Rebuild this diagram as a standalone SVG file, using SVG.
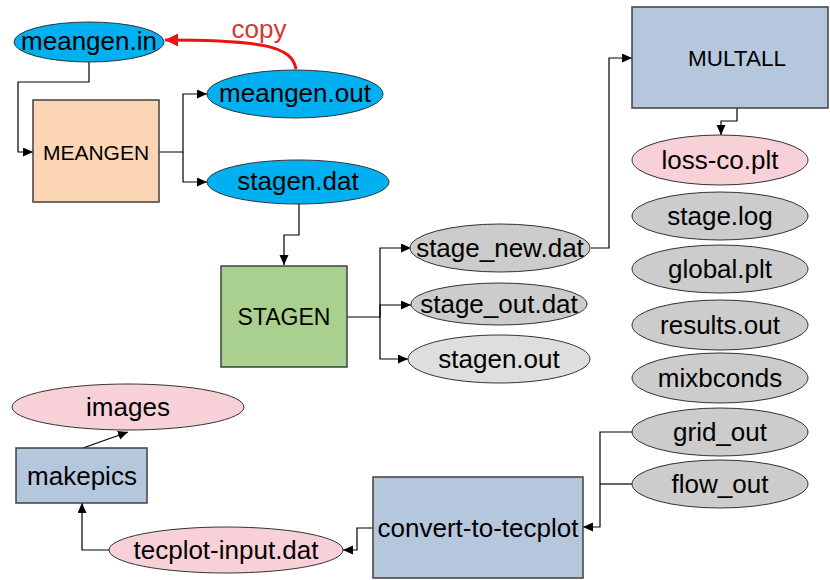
<svg xmlns="http://www.w3.org/2000/svg" width="830" height="580" viewBox="0 0 830 580">
<defs>
<style>
text{font-family:"Liberation Sans",Arial,sans-serif;font-size:26px;fill:#000;text-anchor:middle}
.ell{stroke:#333;stroke-width:1}
.box{stroke:#404040;stroke-width:1.5}
.cyan{fill:#00b0f0}
.grey{fill:#cccccc}
.lgrey{fill:#dedede}
.pink{fill:#f8d1d8}
.blue{fill:#b4c7dd}
.conn path{fill:none;stroke:#000;stroke-width:1.2}
</style>
<marker id="ah" markerUnits="userSpaceOnUse" markerWidth="11" markerHeight="10" refX="10" refY="4.5" orient="auto">
<path d="M0,0 L10,4.5 L0,9 z" fill="#000"/>
</marker>
<marker id="ahr" markerUnits="userSpaceOnUse" markerWidth="14" markerHeight="14" refX="13" refY="6.5" orient="auto">
<path d="M0,0 L13,6.5 L0,13 z" fill="#ee1111"/>
</marker>
</defs>
<rect width="830" height="580" fill="#fff"/>

<g id="connectors" class="conn">
<path d="M89,62 V82 H18 V152 H33" marker-end="url(#ah)"/>
<path d="M159,152 H183 V94 H207" marker-end="url(#ah)"/>
<path d="M183,152 V182 H207" marker-end="url(#ah)"/>
<path d="M299,204 V235 H284 V265" marker-end="url(#ah)"/>
<path d="M347,317 H380 V248 H411" marker-end="url(#ah)"/>
<path d="M380,317 V305 H411" marker-end="url(#ah)"/>
<path d="M380,317 V359 H408" marker-end="url(#ah)"/>
<path d="M591,248 H609 V58 H632" marker-end="url(#ah)"/>
<path d="M737,108 V121 H721 V135" marker-end="url(#ah)"/>
<path d="M632,432 H600 V527 H583" marker-end="url(#ah)"/>
<path d="M632,484 H600"/>
<path d="M373,528 H357 V550 H343" marker-end="url(#ah)"/>
<path d="M110,550 H82 V503" marker-end="url(#ah)"/>
<path d="M83,448 L128,432" marker-end="url(#ah)"/>
<path d="M296,69 C292,46 262,40 165,40" style="stroke:#ee1111;stroke-width:3" marker-end="url(#ahr)"/>
<text x="259" y="38" style="fill:#d93333">copy</text>
</g>

<g id="meangen-in"><ellipse class="ell cyan" cx="89" cy="42" rx="75" ry="20"/><text x="89" y="50">meangen.in</text></g>
<g id="meangen"><rect class="box" x="33" y="100" width="126" height="102" fill="#fcd5b4"/><text x="96" y="160" style="font-size:21px">MEANGEN</text></g>
<g id="meangen-out"><ellipse class="ell cyan" cx="295" cy="94" rx="88" ry="24"/><text x="295" y="102">meangen.out</text></g>
<g id="stagen-dat"><ellipse class="ell cyan" cx="298" cy="182" rx="91" ry="22"/><text x="298" y="190">stagen.dat</text></g>
<g id="stagen"><rect class="box" x="221" y="266" width="126" height="101" fill="#a9d08e"/><text x="284" y="325" style="font-size:23px">STAGEN</text></g>
<g id="stage-new"><ellipse class="ell grey" cx="500" cy="248" rx="90" ry="24"/><text x="500" y="257">stage_new.dat</text></g>
<g id="stage-out"><ellipse class="ell grey" cx="499" cy="304" rx="88" ry="21"/><text x="499" y="313">stage_out.dat</text></g>
<g id="stagen-out"><ellipse class="ell lgrey" cx="499" cy="359" rx="91" ry="24"/><text x="499" y="368">stagen.out</text></g>
<g id="multall"><rect class="box blue" x="632" y="7" width="196" height="101"/><text x="737" y="66" style="font-size:22.5px">MULTALL</text></g>
<g id="loss-co"><ellipse class="ell pink" cx="720" cy="160" rx="88" ry="25"/><text x="720" y="169">loss-co.plt</text></g>
<g id="stage-log"><ellipse class="ell grey" cx="720" cy="216" rx="88" ry="24"/><text x="720" y="225">stage.log</text></g>
<g id="global"><ellipse class="ell grey" cx="720" cy="269" rx="88" ry="24"/><text x="720" y="278">global.plt</text></g>
<g id="results"><ellipse class="ell grey" cx="720" cy="325" rx="88" ry="25"/><text x="720" y="334">results.out</text></g>
<g id="mixbconds"><ellipse class="ell grey" cx="720" cy="378" rx="88" ry="25"/><text x="720" y="387">mixbconds</text></g>
<g id="grid-out"><ellipse class="ell grey" cx="720" cy="432" rx="88" ry="24"/><text x="720" y="441">grid_out</text></g>
<g id="flow-out"><ellipse class="ell grey" cx="720" cy="484" rx="88" ry="24"/><text x="720" y="493">flow_out</text></g>
<g id="convert"><rect class="box blue" x="373" y="477" width="210" height="101"/><text x="478" y="537">convert-to-tecplot</text></g>
<g id="tecplot-input"><ellipse class="ell pink" cx="226" cy="550" rx="117" ry="23"/><text x="226" y="559">tecplot-input.dat</text></g>
<g id="makepics"><rect class="box blue" x="16" y="448" width="131" height="55"/><text x="82" y="485">makepics</text></g>
<g id="images"><ellipse class="ell pink" cx="128" cy="407" rx="116" ry="23"/><text x="128" y="416">images</text></g>
</svg>
